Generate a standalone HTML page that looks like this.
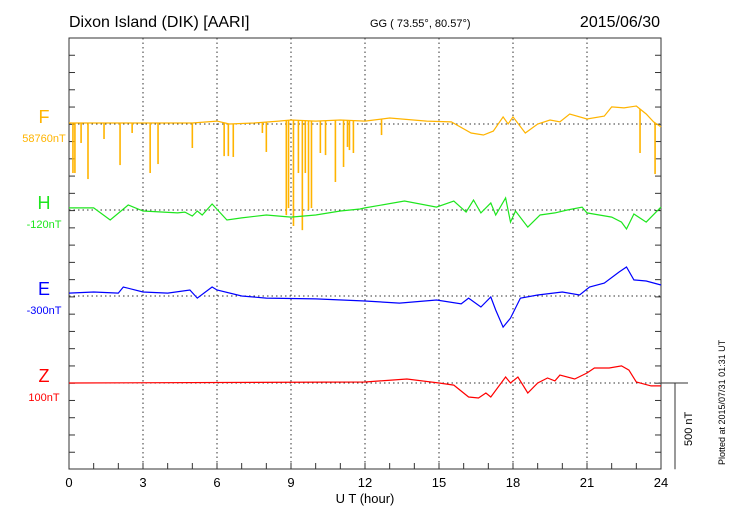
<!DOCTYPE html>
<html><head><meta charset="utf-8">
<style>
body{margin:0;background:#fff;}
svg{display:block;font-family:"Liberation Sans",sans-serif;}
</style></head>
<body>
<svg id="chart" width="730" height="520" viewBox="0 0 730 520" xmlns="http://www.w3.org/2000/svg">
<text x="69" y="27" font-size="16">Dixon Island (DIK)  [AARI]</text>
<text x="370" y="27" font-size="11">GG ( 73.55°,  80.57°)</text>
<text x="660" y="27" font-size="16" text-anchor="end">2015/06/30</text>
<text x="365" y="503" font-size="13" text-anchor="middle">U T (hour)</text>
<text transform="translate(725,465) rotate(-90)" font-size="9">Plotted at 2015/07/31  01:31  UT</text>
<g id="plot"></g>
</svg>
<script>
const xTicks=[0,3,6,9,12,15,18,21,24];
const fTimes=[0,3,5,6,6.5,7.5,8.5,9,10,11,12,13,14.5,15.5,16.3,16.8,17.2,17.6,17.8,18,18.5,19,19.5,19.9,20.3,21,21.7,22,22.5,23,23.4,23.7,24];
const fValues=[6,6,6,17,0,6,17,23,17,23,17,35,17,12,-52,-64,-41,41,0,41,-52,0,23,12,58,29,46,99,93,104,58,12,-17];
const spikeTimes=[0.16,0.24,0.49,0.77,1.42,2.07,2.56,3.29,3.61,5.0,6.29,6.46,6.66,7.84,8.0,8.81,8.9,9.1,9.3,9.46,9.58,9.71,9.83,10.19,10.4,10.8,11.13,11.29,11.37,11.53,12.67,23.15,23.76];
const spikeValues=[-284,-284,-110,-319,-87,-238,-52,-284,-232,-139,-186,-186,-191,-52,-162,-528,-487,-591,-284,-615,-284,-498,-487,-168,-180,-336,-249,-133,-151,-168,-64,-168,-290];
const hTimes=[0,1,1.67,2.4,3,4.4,4.7,5,5.2,5.4,5.8,6.4,7,8,9,10,11,11.8,12,13.6,14.9,15.6,16.1,16.4,16.7,17.1,17.3,17.7,17.9,18.1,18.6,19.1,19.7,20.2,20.8,21,21.5,22,22.4,22.6,22.9,23.4,24];
const hValues=[12,12,-58,29,-6,-17,-12,-35,-6,-29,35,-58,-46,-29,-41,-29,-6,6,12,52,17,52,-12,58,-17,41,-29,70,-70,-6,-99,-29,-17,0,17,-17,-29,-41,-70,-110,-23,-70,17];
const eTimes=[0,1,2,2.2,3,4,4.9,5.2,5.8,6,7,8,10,12,13.4,14.9,15.9,16.2,16.7,17.1,17.3,17.6,17.9,18.3,19,20,20.7,21.1,21.7,22.3,22.6,22.9,23.4,24];
const eValues=[17,23,17,52,23,17,35,-12,52,35,0,-12,-17,-29,-41,-23,-46,-12,-64,-6,-81,-180,-128,-12,6,23,6,52,75,139,168,93,87,64];
const zTimes=[0,12,13.7,15,15.6,16.2,16.6,16.9,17.1,17.7,17.9,18.2,18.6,19,19.4,19.7,19.9,20.5,21,21.3,21.9,22.4,22.7,23,23.6,24];
const zValues=[0,6,23,0,-12,-81,-87,-58,-81,35,0,35,-58,0,29,12,46,23,58,87,87,99,75,6,-17,-17];
const compNames=["F","H","E","Z"];
const compOffsets=["58760nT","-120nT","-300nT","100nT"];

const L=69,R=661,T=38,B=469,base=[124,210,296,383],pxPer100=17.26;
const colors=["#ffb400","#1ee61e","#0000ff","#ff0000"];
const X=t=>L+(R-L)*t/24;
const Y=(i,v)=>base[i]-v*pxPer100/100;
const NS="http://www.w3.org/2000/svg";
const g=document.getElementById('plot');
function mk(tag,at){const e=document.createElementNS(NS,tag);for(const k in at)e.setAttribute(k,at[k]);g.appendChild(e);return e;}
// grid
for(const t of xTicks.slice(1,-1)){
 const e=mk('line',{x1:X(t),x2:X(t),y1:T,y2:B,stroke:'#333','stroke-dasharray':'1.5,3','stroke-width':1});
 
 
}
for(let i=0;i<4;i++){
 const e=mk('line',{x1:L,x2:R,y1:base[i],y2:base[i],stroke:'#333','stroke-dasharray':'1.5,3','stroke-width':1});
 
 
}
// axes frame
const fr=mk('rect',{x:L,y:T,width:R-L,height:B-T,fill:'none',stroke:'#333','stroke-width':1});


for(let k=0;k<=25;k++){const y=T+k*pxPer100;if(y>B)break;
 const a=mk('line',{x1:L,x2:L+6,y1:y,y2:y,stroke:'#333'});
 
 
 const b=mk('line',{x1:R-6,x2:R,y1:y,y2:y,stroke:'#333'});
 
 
}
for(let h=0;h<=24;h++){
 const e=mk('line',{x1:X(h),x2:X(h),y1:B,y2:B-6,stroke:'#333'});
 
 
}
for(const t of xTicks){
 const e=mk('text',{x:X(t),y:487,'font-size':13,'text-anchor':'middle'});
 e.textContent=t;
 
 
}
// scale bar
const s1=mk('line',{x1:R,x2:688,y1:base[3],y2:base[3],stroke:'#333'});


const s2=mk('line',{x1:675,x2:675,y1:base[3],y2:base[3]+5*pxPer100,stroke:'#333'});


const s3=mk('text',{transform:'translate(692,446) rotate(-90)','font-size':11});
s3.textContent='500 nT';


// labels
for(let i=0;i<4;i++){
 const a=mk('text',{x:44,y:base[i]-1,'font-size':18,fill:colors[i],'text-anchor':'middle'});
 a.textContent=compNames[i];
 
 
 const b=mk('text',{x:44,y:base[i]+18,'font-size':11,fill:colors[i],'text-anchor':'middle'});
 b.textContent=compOffsets[i];
 
 
}
function interp(ts,vs,t){for(let k=1;k<ts.length;k++){if(t<=ts[k]){const f=(t-ts[k-1])/(ts[k]-ts[k-1]);return vs[k-1]+f*(vs[k]-vs[k-1]);}}return vs[vs.length-1];}
// F spikes
for(let k=0;k<spikeTimes.length;k++){
 const t=spikeTimes[k];
 const e=mk('line',{x1:X(t),x2:X(t),y1:Y(0,interp(fTimes,fValues,t)),y2:Y(0,spikeValues[k]),stroke:colors[0],'stroke-width':1.6});
 
 
}
const series=[[fTimes,fValues],[hTimes,hValues],[eTimes,eValues],[zTimes,zValues]];
for(let i=0;i<4;i++){
 const [ts,vs]=series[i];
 const d=ts.map((t,k)=>(k?'L':'M')+X(t).toFixed(1)+','+Y(i,vs[k]).toFixed(1)).join(' ');
 const e=mk('path',{d:d,fill:'none',stroke:colors[i],'stroke-width':1.2});
 
 
}
</script>
</body></html>
